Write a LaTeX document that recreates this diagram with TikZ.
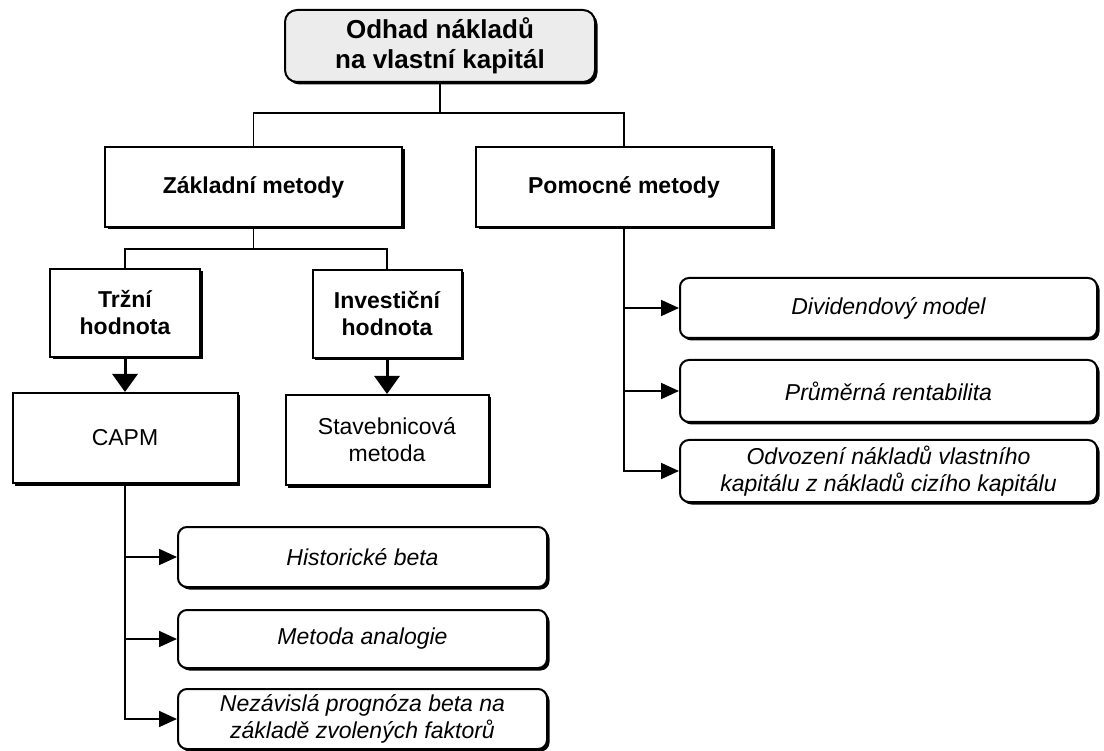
\documentclass[tikz,border=0pt]{standalone}
\usepackage{fontspec}
\setmainfont{Liberation Sans}
\usetikzlibrary{shadows,arrows.meta}
\begin{document}
\begin{tikzpicture}[x=1pt,y=-1pt]
\tikzset{
 base/.style={draw, line width=2pt, fill=white, inner sep=0pt, align=center,
   font=\fontsize{23}{27}\selectfont,
   drop shadow={shadow xshift=2.5pt, shadow yshift=-2.5pt, fill=black, opacity=1}},
 rbox/.style={base, rounded corners=9pt, font=\fontsize{23}{27}\selectfont\itshape},
 bbox/.style={base, font=\fontsize{23}{27}\selectfont\bfseries},
 conn/.style={line width=1.8pt},
 arr/.style={line width=1.8pt, -{Triangle[length=18pt,width=16pt]}},
 darr/.style={line width=3pt, -{Triangle[length=18pt,width=25pt]}},
}
\useasboundingbox (0,0) rectangle (1104,751);
\fill[white] (0,0) rectangle (1104,751);

\node[base, rounded corners=12pt, fill=gray!15, font=\fontsize{26}{30}\selectfont\bfseries,
  minimum width=310pt, minimum height=72pt] (top) at (440,46) {Odhad nákladů\\na vlastní kapitál};

\node[bbox, minimum width=297pt, minimum height=80pt] (zakl) at (253.5,187) {Základní metody};
\node[bbox, minimum width=296pt, minimum height=80pt] (pomoc) at (624,187) {Pomocné metody};

\node[bbox, minimum width=150pt, minimum height=88pt] (trzni) at (125,313) {Tržní\\hodnota};
\node[bbox, minimum width=149pt, minimum height=88pt] (invest) at (387,314) {Investiční\\hodnota};

\node[base, minimum width=225pt, minimum height=90pt] (capm) at (125,438) {CAPM};
\node[base, minimum width=203pt, minimum height=90pt] (stav) at (387,440) {Stavebnicová\\metoda};

\node[rbox, minimum width=369pt, minimum height=60pt] (hist) at (362.5,557) {Historické beta};
\node[rbox, minimum width=369pt, minimum height=58pt] (anal) at (362.5,639) {Metoda analogie};
\node[rbox, minimum width=369pt, minimum height=60pt] (nez) at (362.5,719) {Nezávislá prognóza beta na\\základě zvolených faktorů};

\node[rbox, minimum width=417pt, minimum height=60pt] (div) at (888.5,308) {Dividendový model};
\node[rbox, minimum width=417pt, minimum height=62pt] (prum) at (888.5,391) {Průměrná rentabilita};
\node[rbox, minimum width=417pt, minimum height=62pt] (odv) at (888.5,471) {Odvození nákladů vlastního\\kapitálu z nákladů cizího kapitálu};

\draw[conn] (top.south) -- ++(0,30) coordinate (j1);
\draw[conn] (zakl.north) |- (j1) -| (pomoc.north);

\draw[conn] (zakl.south) -- ++(0,21) coordinate (j2);
\draw[conn] (trzni.north) |- (j2) -| (invest.north);

\draw[darr] (trzni.south) -- (capm.north);
\draw[darr] (invest.south) -- (stav.north);

\draw[arr] (capm.south) |- (hist.west);
\draw[arr] (capm.south) |- (anal.west);
\draw[arr] (capm.south) |- (nez.west);

\draw[arr] (pomoc.south) |- (div.west);
\draw[arr] (pomoc.south) |- (prum.west);
\draw[arr] (pomoc.south) |- (odv.west);
\end{tikzpicture}
\end{document}
